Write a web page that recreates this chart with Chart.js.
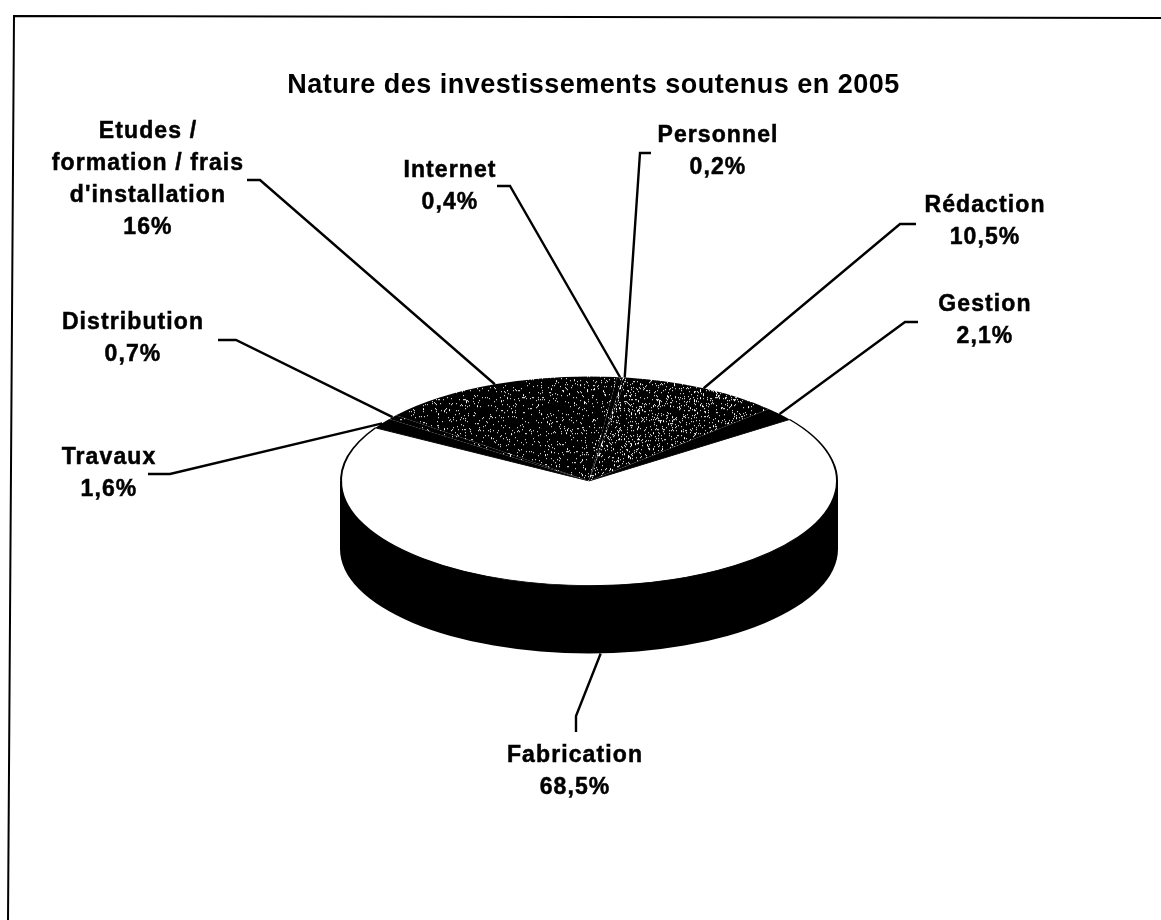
<!DOCTYPE html>
<html>
<head>
<meta charset="utf-8">
<title>Nature des investissements soutenus en 2005</title>
<script src="https://cdn.jsdelivr.net/npm/chart.js@4"></script>
<style>
    html, body { margin: 0; padding: 0; background: #fff; }
    #wrap { position: absolute; left: 0; top: 0; width: 1161px; height: 920px; }
</style>
</head>
<body>
<div id="wrap"><canvas id="pie"></canvas></div>
<script>
const chartTitle = 'Nature des investissements soutenus en 2005'
const categories = ['Fabrication', 'Travaux', 'Distribution', ['Etudes /', 'formation / frais', "d'installation"], 'Internet', 'Personnel', 'Rédaction', 'Gestion']
const shares = [68.5, 1.6, 0.7, 16, 0.4, 0.2, 10.5, 2.1]

//where each label sits and where its leader line bends (same order as categories)
const labelCenters = [[575, 756], [109, 458], [133, 323], [148, 132], [450, 171], [718, 136], [985, 206], [985, 305]]
const leaderBends = [
    [[576, 716], [576, 732]],
    [[170, 474], [148, 474]],
    [[236, 340], [218, 340]],
    [[260, 180], [247, 180]],
    [[510, 186], [497, 186]],
    [[640, 153], [651, 153]],
    [[900, 224], [916, 224]],
    [[905, 322], [918, 322]]
]
//the scan is slightly crooked, so the frame is too
const frameCorners = [[8, 920], [14, 16], [1161, 18]]

const startAngle = 54
const squash = 105 / 249
const wallDepth = 68
const titleCenter = 593.5
const labelFont = 'bold 23px "Liberation Sans", Arial, sans-serif'
const lineStep = 32

//speckled fill like the scanned halftone, white dots on black
function speckle(density) {
    const tile = document.createElement('canvas')
    tile.width = tile.height = 193
    const tctx = tile.getContext('2d')
    tctx.fillStyle = '#000'
    tctx.fillRect(0, 0, 193, 193)
    tctx.fillStyle = '#fff'
    let seed = 12345
    for (let y = 0; y < 193; y++) {
        for (let x = 0; x < 193; x++) {
            seed = (seed * 1103515245 + 12345) % 2147483648
            if (seed / 2147483648 < density) tctx.fillRect(x, y, 1, 1)
        }
    }
    const pattern = tctx.createPattern(tile, 'repeat')
    //the pie is drawn squashed, keep the dots square
    pattern.setTransform(new DOMMatrix().scale(1, 1 / squash))
    return pattern
}

const sliceFills = ['#fff', '#000', speckle(0.02), speckle(0.05), speckle(0.04), speckle(0.3), speckle(0.1), '#000']
const sliceBorders = [2, 0, 0, 0, 0, 0, 0, 0]

//point on the top face at the middle of a slice
function sliceAnchor(arc) {
    const mid = (arc.startAngle + arc.endAngle) / 2
    return {
        x: arc.x + Math.cos(mid) * arc.outerRadius,
        y: arc.y + Math.sin(mid) * arc.outerRadius * squash,
        front: Math.sin(mid) > 0.9
    }
}

const tiltedPie = {
    id: 'tiltedPie',
    afterLayout(chart) {
        //title box would otherwise be squeezed to the width of the pie
        chart.titleBlock.left = titleCenter - 500
        chart.titleBlock.right = titleCenter + 500
        chart.titleBlock.width = 1000
    },
    beforeDraw(chart) {
        const ctx = chart.ctx
        ctx.save()
        ctx.strokeStyle = '#000'
        ctx.lineWidth = 2
        ctx.beginPath()
        frameCorners.forEach((p, i) => i ? ctx.lineTo(p[0], p[1]) : ctx.moveTo(p[0], p[1]))
        ctx.stroke()
        ctx.restore()
        //title is set wide like the original
        ctx.letterSpacing = '0.5px'
    },
    beforeDatasetsDraw(chart) {
        const ctx = chart.ctx
        const arc = chart.getDatasetMeta(0).data[0]
        const rx = arc.outerRadius, ry = rx * squash

        //side wall
        ctx.save()
        ctx.fillStyle = '#000'
        ctx.beginPath()
        ctx.ellipse(arc.x, arc.y + wallDepth, rx + 1, ry, 0, 0, Math.PI)
        ctx.lineTo(arc.x - rx - 1, arc.y)
        ctx.lineTo(arc.x + rx + 1, arc.y)
        ctx.closePath()
        ctx.fill()
        ctx.restore()

        ctx.save()
        ctx.translate(arc.x, arc.y)
        ctx.scale(1, squash)
        ctx.translate(-arc.x, -arc.y)
    },
    afterDatasetsDraw(chart) {
        const ctx = chart.ctx
        ctx.restore()

        const arcs = chart.getDatasetMeta(0).data
        ctx.save()
        ctx.strokeStyle = '#000'
        ctx.fillStyle = '#000'
        ctx.font = labelFont
        ctx.letterSpacing = '1.1px'
        ctx.textAlign = 'center'
        ctx.textBaseline = 'middle'
        arcs.forEach((arc, i) => {
            const anchor = sliceAnchor(arc)
            const bends = leaderBends[i]
            ctx.lineWidth = 2.4
            ctx.beginPath()
            ctx.moveTo(anchor.x, anchor.front ? anchor.y + wallDepth : anchor.y)
            ctx.lineTo(bends[0][0], bends[0][1])
            ctx.lineTo(bends[1][0], bends[1][1])
            ctx.stroke()

            //small outline, the scanned letters are heavier than plain bold
            ctx.lineWidth = 0.5
            const lines = [].concat(categories[i], String(shares[i]).replace('.', ',') + '%')
            lines.forEach((line, n) => {
                ctx.fillText(line, labelCenters[i][0], labelCenters[i][1] + n * lineStep)
                ctx.strokeText(line, labelCenters[i][0], labelCenters[i][1] + n * lineStep)
            })
        })
        ctx.restore()
    }
}

new Chart(document.getElementById('pie'), {
    type: 'pie',
    data: {
        labels: categories,
        datasets: [{
            data: shares,
            backgroundColor: sliceFills,
            borderColor: '#000',
            borderWidth: sliceBorders
        }]
    },
    options: {
        responsive: true,
        maintainAspectRatio: false,
        animation: false,
        events: [],
        rotation: startAngle,
        layout: { padding: { left: 340, right: 323, top: 0, bottom: 190 } },
        plugins: {
            legend: { display: false },
            tooltip: { enabled: false },
            title: {
                display: true,
                text: chartTitle,
                color: '#000',
                font: { family: '"Liberation Sans", Arial, sans-serif', size: 27, weight: 'bold', lineHeight: 1.2 },
                padding: { top: 69, bottom: 130.6 }
            }
        }
    },
    plugins: [tiltedPie]
})
</script>
</body>
</html>
